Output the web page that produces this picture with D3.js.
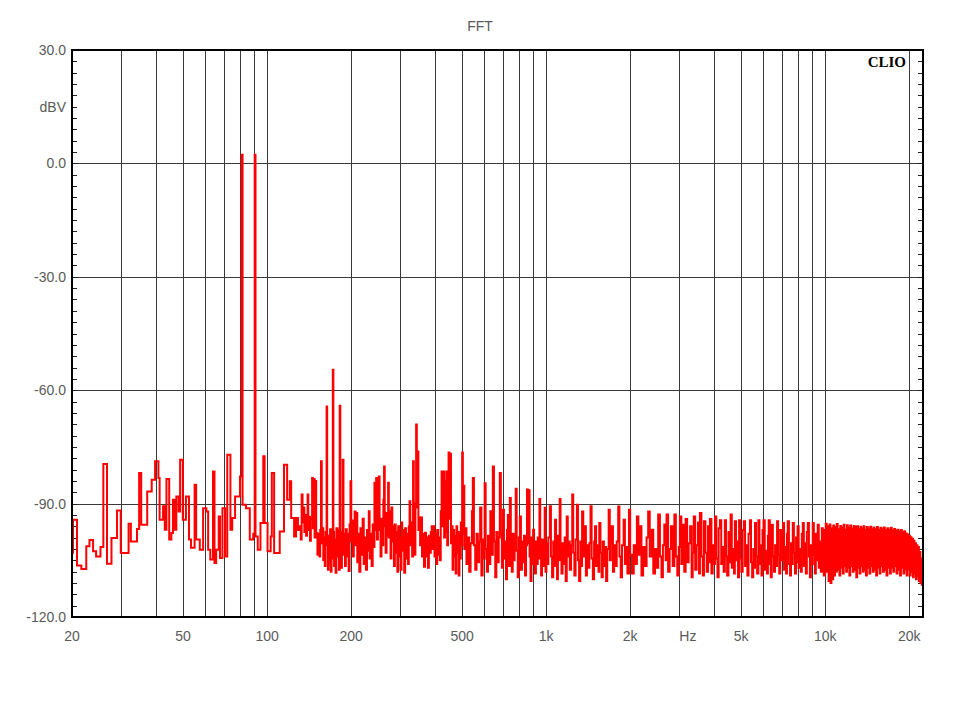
<!DOCTYPE html>
<html><head><meta charset="utf-8">
<script src="https://cdn.jsdelivr.net/npm/d3@7"></script>
<style>body{margin:0;background:#fff}</style>
</head><body>
<svg id="c" width="960" height="720"></svg>
<script>
const chartTitle = "FFT";
const brandLabel = "CLIO";
const xUnitLabel = "Hz";
const xUnitAt = 3000;
const xDomain = [20, 22400];
const yDomain = [-120, 30];
const xTickValues = [20, 50, 100, 200, 500, 1000, 2000, 5000, 10000, 20000];
const xTickLabels = ["20", "50", "100", "200", "500", "1k", "2k", "5k", "10k", "20k"];
const xGridValues = [30,40,50,60,70,80,90,100,200,300,400,500,600,700,800,900,1000,2000,3000,4000,5000,6000,7000,8000,9000,10000,20000];
const yLabelValues = [30, 15, 0, -30, -60, -90, -120];
const yLabelTexts = ["30.0", "dBV", "0.0", "-30.0", "-60.0", "-90.0", "-120.0"];
const yGridValues = [0, -30, -60, -90];

// FFT spectrum, [Hz, dBV], split by band
const fft20to131 = [[20.0,-103.0],[20.17,-94.3],[20.84,-106.4],[21.6,-107.3],[22.5,-101.3],[23.1,-99.6],[23.8,-102.6],[24.4,-104.0],[25.3,-101.5],[25.9,-79.5],[26.7,-105.9],[27.7,-99.1],[29.0,-91.8],[29.9,-103.1],[31.9,-95.3],[32.5,-100.0],[34.2,-96.7],[34.8,-81.9],[35.4,-95.6],[37.2,-86.8],[38.6,-83.7],[39.7,-78.8],[40.8,-83.2],[41.2,-94.3],[42.4,-90.7],[43.0,-96.9],[43.6,-83.5],[44.6,-99.5],[45.4,-97.8],[46.0,-89.0],[46.6,-96.9],[47.3,-88.1],[48.2,-92.1],[48.8,-78.4],[49.9,-94.3],[51.2,-88.1],[52.5,-99.5],[53.4,-101.7],[55.0,-85.0],[55.7,-99.5],[57.4,-102.2],[59.0,-91.2],[60.6,-92.1],[61.5,-102.2],[62.6,-104.8],[64.0,-81.5],[64.8,-105.7],[65.7,-102.2],[67.1,-93.4],[67.8,-104.4],[69.2,-91.2],[70.7,-104.0],[72.0,-77.1],[73.9,-96.9],[75.0,-93.8],[76.8,-88.1],[80.0,-82.8],[81.1,2.3],[81.7,-90.3],[84.0,-91.2],[86.7,-99.5],[89.2,-98.0],[90.3,2.3],[90.9,-98.7],[92.6,-102.2],[94.7,-95.1],[96.9,-77.5],[98.0,-95.1],[100.4,-102.6],[103.0,-98.7],[104.0,-81.9],[106.0,-103.1],[111.0,-97.4],[115.0,-79.7],[118.0,-89.0],[120.6,-84.1],[122.0,-93.8],[125.0,-98.7],[127.0,-93.8],[129.0,-97.0]];

const fft131to200 = [[131,-96.0],[132,-99.5],[133,-87.6],[134,-95.0],[135,-91.0],[136,-97.5],[137,-93.0],[138,-98.5],[139,-95.0],[139.7,-87.6],[140.5,-97.0],[141.5,-93.5],[142.5,-99.8],[143.5,-94.0],[145,-83.2],[146,-96.5],[147,-83.5],[148,-99.0],[149,-84.0],[150,-97.8],[151.5,-103.5],[153,-98.0],[154,-104.0],[155,-97.0],[156,-78.8],[157,-100.5],[158,-96.5],[159,-105.0],[160,-99.0],[161,-106.5],[162,-97.5],[163.4,-64.3],[164.2,-101.0],[165.2,-107.5],[166.2,-98.5],[167.2,-106.0],[168.2,-96.8],[169.2,-108.0],[170.2,-99.0],[171.2,-104.5],[172,-54.6],[172.8,-97.5],[173.8,-106.5],[175,-99.5],[176,-108.3],[177.2,-96.5],[178.4,-104.0],[179.6,-97.0],[181,-107.5],[182,-64.1],[183,-99.0],[184.2,-107.0],[185.4,-97.5],[186.6,-78.4],[187.8,-103.5],[189,-98.0],[190.2,-106.5],[191.5,-96.8],[193,-104.0],[194.5,-98.0],[196,-107.8],[197.5,-95.5],[199,-84.1],[200.3,-100.0]];

const fft200to510 = [[201.5,-94.5],[203,-104.0],[204.5,-97.0],[206,-92.1],[207.5,-101.0],[209,-92.5],[210.5,-105.5],[212,-98.0],[214,-108.0],[216,-96.5],[218,-103.5],[220,-94.0],[222,-106.0],[224,-99.0],[226,-107.5],[228,-97.0],[230,-102.5],[231.5,-92.0],[233,-104.5],[235,-98.0],[237,-106.5],[239,-95.5],[241,-101.5],[242.5,-84.5],[244,-97.0],[246,-83.2],[247.5,-99.5],[249.5,-92.0],[251.5,-82.8],[253,-97.0],[255,-104.0],[257,-94.0],[259,-101.0],[261,-89.0],[262.5,-80.2],[264,-96.0],[266,-103.0],[268,-92.5],[270,-98.5],[271.5,-84.5],[273,-99.0],[275,-92.0],[277,-104.5],[279,-91.0],[281,-100.0],[283,-96.0],[285,-106.5],[287,-95.5],[289,-103.0],[291,-97.5],[293,-108.0],[295,-96.0],[297,-104.0],[299,-99.0],[301,-107.5],[303,-95.0],[305,-102.5],[307.5,-97.0],[310,-108.3],[312.5,-96.5],[315,-104.5],[317.5,-98.0],[320,-106.0],[322,-96.0],[324,-89.4],[326,-101.0],[328.5,-95.0],[331,-104.0],[333.5,-78.8],[335.5,-98.5],[338,-103.5],[340,-90.0],[342,-69.1],[344,-91.0],[346.5,-76.2],[348.5,-97.0],[351,-93.6],[353.5,-101.0],[356,-93.7],[359,-104.0],[362,-98.0],[365,-106.7],[368,-97.7],[371,-104.0],[374,-99.0],[377,-107.0],[380,-98.5],[383,-103.0],[386,-97.5],[389,-96.0],[392,-102.0],[395,-96.0],[398,-104.0],[401,-98.0],[404,-106.0],[407,-97.0],[410,-103.5],[413,-99.0],[416,-105.0],[419,-92.0],[422,-81.5],[425,-96.0],[428,-81.5],[431,-99.0],[434,-84.0],[437,-97.5],[439,-81.5],[442,-101.0],[445,-91.0],[447,-76.5],[450,-94.0],[453,-76.8],[456,-100.5],[459,-96.0],[462,-107.5],[465,-97.0],[468,-104.0],[471,-98.5],[474,-108.5],[477,-96.0],[480,-103.0],[483,-97.5],[486,-109.0],[489,-98.0],[492,-104.5],[494.5,-95.0],[497,-101.0],[500,-76.5],[503,-98.0],[506,-85.3],[509,-102.0]];

const fft510to2k = [[512,-96.5],[518,-106.0],[524,-99.0],[530,-108.0],[536,-100.5],[542,-92.0],[546,-83.2],[551,-101.0],[557,-107.5],[563,-98.0],[569,-105.5],[575,-100.0],[580,-91.0],[586,-109.0],[592,-99.5],[597,-104.5],[602,-84.6],[607,-102.0],[613,-108.0],[619,-98.5],[625,-106.0],[631,-92.0],[637,-103.5],[644,-80.2],[650,-100.0],[657,-109.5],[663,-97.5],[670,-105.5],[676,-99.0],[682,-81.9],[688,-98.0],[694,-107.0],[700,-91.6],[706,-104.5],[712,-100.0],[718,-110.0],[724,-97.0],[729,-93.0],[735,-106.5],[741,-88.5],[747,-101.0],[753,-108.0],[759,-98.0],[765,-105.0],[771,-100.5],[778,-86.1],[784,-102.5],[791,-109.5],[798,-99.0],[805,-93.4],[812,-107.5],[819,-100.0],[826,-105.5],[833,-98.5],[840,-109.0],[847,-101.0],[854,-86.3],[860,-100.5],[866,-86.5],[872,-104.0],[879,-110.5],[886,-99.0],[892,-106.0],[898,-96.9],[905,-103.5],[912,-108.5],[919,-100.0],[926,-106.0],[933,-99.0],[940,-104.5],[946,-88.8],[952,-101.0],[959,-109.0],[966,-99.5],[973,-106.5],[980,-100.0],[988,-91.1],[995,-108.0],[1002,-100.5],[1010,-106.0],[1018,-99.0],[1031,-90.7],[1040,-104.0],[1050,-109.5],[1060,-100.0],[1068,-106.5],[1076,-94.3],[1085,-103.0],[1094,-110.0],[1102,-98.5],[1110,-105.0],[1118,-88.8],[1126,-102.0],[1135,-108.5],[1145,-100.5],[1155,-106.0],[1165,-99.0],[1175,-110.5],[1185,-93.4],[1195,-104.0],[1205,-100.0],[1215,-107.5],[1228,-101.0],[1240,-87.6],[1250,-103.0],[1262,-109.0],[1275,-99.5],[1289,-90.3],[1300,-105.0],[1312,-110.5],[1325,-100.0],[1335,-106.5],[1345,-92.1],[1358,-104.0],[1375,-96.0],[1388,-109.0],[1400,-101.0],[1415,-107.0],[1428,-100.5],[1442,-90.7],[1455,-104.5],[1470,-110.0],[1485,-100.0],[1497,-96.0],[1510,-106.5],[1525,-101.0],[1540,-108.0],[1550,-95.1],[1565,-103.0],[1580,-109.5],[1595,-100.0],[1610,-106.5],[1625,-101.5],[1640,-110.5],[1655,-102.0],[1675,-91.6],[1690,-105.0],[1705,-100.5],[1718,-96.0],[1735,-108.0],[1752,-101.0],[1770,-106.5],[1790,-100.0],[1812,-90.8],[1830,-104.0],[1850,-109.5],[1870,-101.0],[1895,-94.3],[1915,-106.0],[1935,-101.5],[1955,-108.5],[1980,-91.6],[2000,-103.5]];

const fft2kto10k = [[2030,-108.5],[2060,-101.0],[2085,-106.0],[2114,-93.4],[2140,-103.5],[2167,-96.0],[2195,-109.0],[2225,-101.5],[2255,-106.5],[2290,-99.0],[2320,-92.1],[2350,-104.0],[2390,-96.9],[2420,-108.5],[2455,-102.0],[2490,-107.0],[2520,-92.9],[2556,-104.0],[2590,-109.5],[2620,-101.0],[2650,-95.5],[2680,-105.0],[2700,-92.9],[2735,-108.0],[2770,-102.0],[2800,-96.0],[2840,-106.5],[2880,-92.9],[2915,-104.0],[2950,-109.0],[2985,-101.5],[3014,-93.4],[3050,-106.0],[3090,-95.6],[3125,-108.0],[3160,-94.1],[3200,-105.5],[3240,-100.5],[3280,-96.0],[3320,-109.5],[3350,-103.0],[3380,-93.4],[3420,-107.5],[3460,-101.0],[3500,-95.0],[3530,-108.5],[3556,-92.5],[3600,-104.0],[3640,-109.0],[3676,-94.7],[3720,-103.0],[3760,-108.0],[3800,-96.0],[3840,-105.5],[3862,-94.1],[3910,-108.5],[3950,-101.0],[3990,-106.0],[4026,-93.4],[4070,-104.5],[4110,-109.5],[4150,-96.5],[4194,-94.4],[4240,-106.0],[4280,-101.5],[4325,-108.0],[4368,-94.4],[4410,-104.0],[4450,-109.0],[4500,-97.5],[4540,-105.5],[4581,-92.9],[4625,-107.0],[4670,-102.0],[4710,-108.5],[4743,-94.7],[4790,-105.0],[4830,-100.0],[4870,-109.5],[4913,-94.4],[4960,-104.5],[5010,-108.0],[5060,-97.0],[5108,-94.7],[5160,-106.5],[5210,-101.0],[5260,-109.0],[5310,-98.0],[5371,-94.4],[5420,-105.5],[5470,-109.5],[5520,-102.0],[5560,-107.0],[5601,-95.1],[5650,-104.0],[5700,-108.5],[5760,-94.4],[5810,-106.0],[5860,-101.0],[5910,-109.0],[5960,-97.0],[6010,-94.4],[6070,-107.5],[6130,-102.5],[6180,-108.5],[6230,-98.5],[6270,-94.4],[6330,-106.0],[6380,-109.5],[6430,-95.6],[6490,-104.0],[6550,-108.0],[6610,-101.0],[6660,-106.5],[6720,-94.7],[6780,-103.5],[6840,-108.5],[6900,-97.0],[6960,-105.0],[7060,-95.1],[7120,-107.5],[7180,-101.5],[7240,-108.5],[7290,-98.0],[7340,-94.7],[7410,-106.0],[7480,-109.0],[7540,-100.5],[7600,-106.0],[7650,-95.1],[7720,-103.0],[7790,-108.5],[7860,-99.0],[7900,-105.5],[7960,-96.0],[8030,-107.0],[8100,-102.0],[8170,-108.0],[8240,-98.0],[8310,-95.1],[8380,-106.5],[8450,-100.5],[8520,-108.5],[8590,-97.5],[8660,-95.1],[8740,-104.0],[8810,-109.5],[8880,-101.0],[8950,-106.0],[9020,-95.1],[9100,-103.5],[9180,-108.5],[9250,-98.0],[9330,-105.0],[9400,-95.6],[9480,-107.0],[9560,-100.0],[9640,-108.0],[9720,-96.5],[9800,-104.5],[9880,-109.0],[9960,-97.0]];

const fft10kto22k = [[10040,-95.3],[10120,-108.0],[10200,-96.0],[10280,-110.5],[10360,-95.5],[10440,-111.0],[10520,-96.5],[10600,-110.0],[10680,-95.8],[10760,-109.0],[10840,-96.2],[10920,-108.0],[11000,-95.4],[11080,-107.5],[11160,-96.8],[11240,-109.0],[11320,-95.9],[11400,-107.0],[11480,-96.4],[11560,-108.5],[11640,-95.6],[11720,-106.5],[11800,-96.9],[11880,-108.0],[11960,-95.7],[12040,-107.0],[12120,-96.3],[12200,-109.0],[12290,-95.8],[12380,-106.5],[12470,-96.6],[12560,-108.0],[12650,-95.9],[12740,-107.5],[12830,-96.2],[12920,-109.5],[13010,-96.0],[13100,-107.0],[13190,-96.8],[13280,-108.5],[13370,-96.1],[13460,-106.5],[13550,-96.5],[13640,-108.0],[13730,-96.0],[13820,-107.5],[13910,-96.9],[14000,-109.0],[14100,-96.2],[14200,-107.0],[14300,-96.6],[14400,-108.5],[14500,-96.1],[14600,-106.5],[14700,-96.8],[14800,-108.0],[14900,-96.3],[15000,-107.5],[15110,-96.7],[15220,-109.0],[15330,-96.2],[15440,-107.0],[15550,-96.9],[15660,-108.5],[15770,-96.4],[15880,-106.5],[15990,-96.8],[16100,-108.0],[16220,-96.3],[16340,-107.5],[16460,-97.0],[16580,-109.0],[16700,-96.5],[16820,-107.0],[16940,-96.9],[17060,-108.5],[17180,-96.4],[17300,-107.0],[17420,-97.1],[17540,-108.0],[17660,-96.7],[17780,-106.5],[17900,-97.2],[18020,-108.5],[18150,-96.9],[18280,-107.5],[18410,-97.4],[18540,-109.0],[18670,-97.0],[18800,-107.0],[18930,-97.6],[19060,-108.5],[19190,-97.3],[19320,-107.5],[19450,-97.9],[19580,-109.0],[19710,-98.2],[19840,-107.5],[19970,-98.5],[20100,-109.0],[20230,-98.9],[20360,-108.0],[20490,-99.3],[20620,-109.5],[20750,-99.8],[20880,-108.5],[21010,-100.5],[21140,-110.0],[21270,-101.0],[21400,-109.0],[21530,-101.5],[21660,-110.5],[21790,-102.8],[21920,-111.0],[22050,-104.5],[22180,-111.5],[22300,-105.5],[22400,-110.5]];

const spectrum = [].concat(fft20to131, fft131to200, fft200to510, fft510to2k, fft2kto10k, fft10kto22k);

const svg = d3.select("#c");
const L = 72, R = 923, T = 50, B = 617;
const x = d3.scaleLog().domain(xDomain).range([L, R]);
const y = d3.scaleLinear().domain(yDomain).range([B, T]);
const font = "'Liberation Sans', Arial, sans-serif";
const textGray = "#5a5a5a";

svg.append("rect").attr("width", 960).attr("height", 720).attr("fill", "#fff");

svg.append("text").attr("x", 480).attr("y", 31).attr("text-anchor", "middle")
  .attr("font-family", font).attr("font-size", 14).attr("fill", textGray).text(chartTitle);

const grid = svg.append("g").attr("shape-rendering", "crispEdges");
grid.selectAll(".vg").data(xGridValues).join("line")
  .attr("x1", d => Math.round(x(d)) + 0.5).attr("x2", d => Math.round(x(d)) + 0.5)
  .attr("y1", T).attr("y2", B).attr("stroke", "#3a3a3a").attr("stroke-width", 1);
grid.selectAll(".hg").data(yGridValues).join("line")
  .attr("x1", L).attr("x2", R)
  .attr("y1", d => Math.round(y(d)) + 0.5).attr("y2", d => Math.round(y(d)) + 0.5)
  .attr("stroke", "#3a3a3a").attr("stroke-width", 1);

// minor ticks every 3 dB on both sides
const minor = d3.range(yDomain[0] + 3, yDomain[1], 3);
grid.selectAll(".lt").data(minor).join("line")
  .attr("x1", L).attr("x2", L + 5)
  .attr("y1", d => Math.round(y(d)) + 0.5).attr("y2", d => Math.round(y(d)) + 0.5)
  .attr("stroke", "#222");
grid.selectAll(".rt").data(minor).join("line")
  .attr("x1", R - 5).attr("x2", R)
  .attr("y1", d => Math.round(y(d)) + 0.5).attr("y2", d => Math.round(y(d)) + 0.5)
  .attr("stroke", "#222");

svg.append("defs").append("clipPath").attr("id", "clip")
  .append("rect").attr("x", L).attr("y", T).attr("width", R - L).attr("height", B - T);

const line = d3.line().x(d => x(d[0])).y(d => y(d[1])).curve(d3.curveStepAfter);
svg.append("path").datum(spectrum).attr("clip-path", "url(#clip)")
  .attr("d", line).attr("fill", "none").attr("stroke", "#ff0000")
  .attr("stroke-width", 2).attr("stroke-linejoin", "miter");

svg.append("rect").attr("x", L).attr("y", T).attr("width", R - L).attr("height", B - T)
  .attr("fill", "none").attr("stroke", "#000").attr("stroke-width", 2).attr("shape-rendering", "crispEdges");

svg.selectAll(".yl").data(yLabelValues).join("text")
  .attr("x", 66).attr("y", d => y(d) + 5).attr("text-anchor", "end")
  .attr("font-family", font).attr("font-size", 14).attr("fill", textGray)
  .text((d, i) => yLabelTexts[i]);

svg.selectAll(".xl").data(xTickValues).join("text")
  .attr("x", d => x(d)).attr("y", 641).attr("text-anchor", "middle")
  .attr("font-family", font).attr("font-size", 14).attr("fill", textGray)
  .text((d, i) => xTickLabels[i]);
svg.append("text").attr("x", x(xUnitAt)).attr("y", 641).attr("text-anchor", "start")
  .attr("font-family", font).attr("font-size", 14).attr("fill", textGray).text(xUnitLabel);

svg.append("text").attr("x", 906).attr("y", 67).attr("text-anchor", "end")
  .attr("font-family", "'Liberation Serif', 'Times New Roman', serif").attr("font-weight", "bold")
  .attr("font-size", 15).attr("fill", "#000").text(brandLabel);
</script>
</body></html>
